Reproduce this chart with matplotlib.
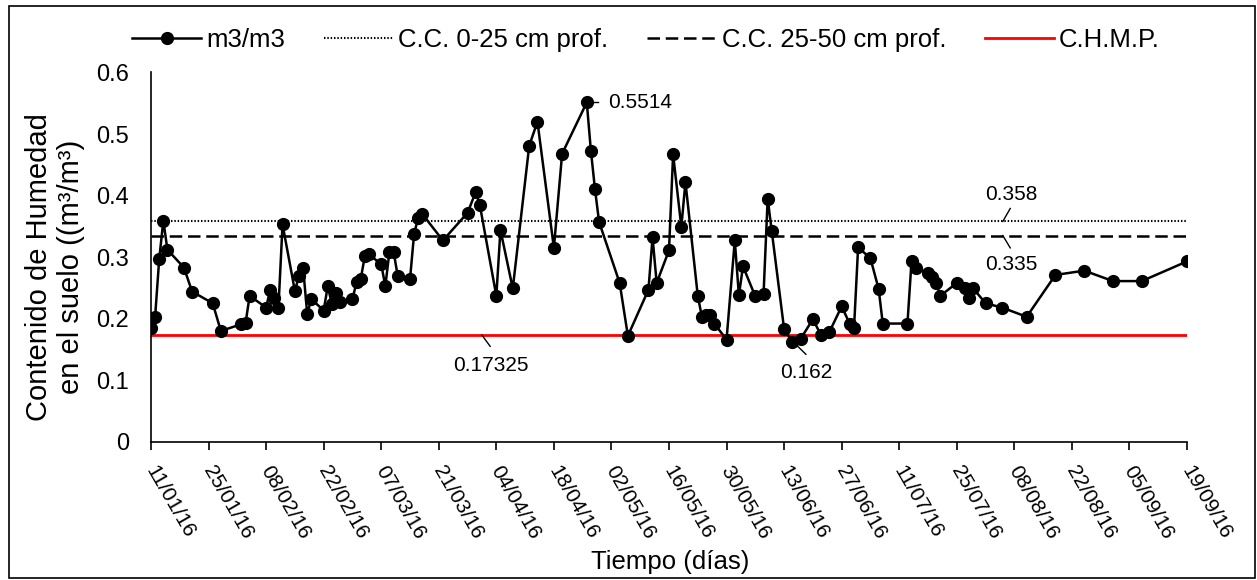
import matplotlib
matplotlib.use("Agg")
import matplotlib.pyplot as plt
from matplotlib.patches import Rectangle
from matplotlib.transforms import ScaledTranslation
import pandas as pd

plt.rcParams['font.family'] = ['Liberation Sans', 'DejaVu Sans']

# ---- data ----
inicio = "2016-01-11"
fin = "2016-09-19"
dias = [0, 1, 2, 3, 4, 8, 10, 15, 17, 22, 23, 24, 28, 29, 30, 31, 32, 35, 36, 37,
        38, 39, 42, 43, 44, 45, 46, 49, 50, 51, 52, 53, 56, 57, 58, 59, 60, 63, 64, 65,
        66, 71, 77, 79, 80, 84, 85, 88, 92, 94, 98, 100, 106, 107, 108, 109, 114, 116,
        121, 122, 123, 126, 127, 129, 130, 133, 134, 135, 136, 137, 140, 142, 143, 144,
        147, 149, 150, 151, 154, 156, 158, 161, 163, 165, 168, 170, 171, 172, 175, 177,
        178, 184, 185, 186, 189, 190, 191, 192, 196, 198, 199, 200, 203, 207, 213, 220,
        227, 234, 241, 252]
humedad = [0.184, 0.203, 0.297, 0.359, 0.312, 0.283, 0.244, 0.225, 0.180, 0.191, 0.193,
           0.237, 0.218, 0.247, 0.233, 0.218, 0.353, 0.245, 0.270, 0.283, 0.207, 0.232,
           0.213, 0.253, 0.223, 0.241, 0.227, 0.232, 0.259, 0.264, 0.301, 0.305, 0.288,
           0.253, 0.309, 0.309, 0.270, 0.264, 0.338, 0.364, 0.370, 0.327, 0.372, 0.406,
           0.384, 0.237, 0.344, 0.249, 0.481, 0.520, 0.315, 0.468, 0.5514, 0.473, 0.410,
           0.357, 0.258, 0.172, 0.247, 0.332, 0.258, 0.311, 0.467, 0.349, 0.422, 0.237,
           0.203, 0.206, 0.206, 0.192, 0.166, 0.327, 0.238, 0.285, 0.236, 0.240, 0.395,
           0.342, 0.183, 0.162, 0.167, 0.199, 0.173, 0.178, 0.220, 0.191, 0.184, 0.316,
           0.298, 0.248, 0.192, 0.192, 0.294, 0.282, 0.274, 0.267, 0.258, 0.237, 0.258,
           0.249, 0.234, 0.249, 0.225, 0.218, 0.203, 0.271, 0.278, 0.261, 0.261, 0.293]
cc_0_25 = 0.358
cc_25_50 = 0.335
chmp = 0.17325
ytick_vals = [0, 0.1, 0.2, 0.3, 0.4, 0.5, 0.6]
ytick_labels = ["0", "0.1", "0.2", "0.3", "0.4", "0.5", "0.6"]

t0 = pd.Timestamp(inicio)
t1 = pd.Timestamp(fin)
fechas = t0 + pd.to_timedelta(dias, unit="D")

W, H = 1257, 580
fig = plt.figure(figsize=(W/100, H/100), dpi=100)
ax = fig.add_axes([151/W, 1-441.7/H, (1187-151)/W, (441.7-72.5)/H])

ax.plot([t0, t1], [cc_0_25]*2, color='black', lw=1.5, ls=(0, (0.7, 0.9)),
        label='C.C. 0-25 cm prof.', zorder=2)
ax.plot([t0, t1], [cc_25_50]*2, color='black', lw=1.8, ls=(0, (5, 2.3)),
        label='C.C. 25-50 cm prof.', zorder=2)
ax.plot([t0, t1], [chmp]*2, color='#ff0000', lw=2.0, label='C.H.M.P.', zorder=2)
ax.plot(fechas, humedad, color='black', lw=1.8, marker='o', ms=8.5,
        label='m3/m3', zorder=3)

ax.set_xlim(t0, t1)
ax.set_ylim(0, 0.6)
ax.set_yticks(ytick_vals)
ax.set_yticklabels(ytick_labels)
xt = pd.date_range(t0, t1, freq='14D')
ax.set_xticks(xt)
ax.set_xticklabels([d.strftime('%d/%m/%y') for d in xt], rotation=-60,
                   ha='left', va='top', rotation_mode='anchor')
ax.tick_params(axis='x', direction='out', length=6, width=1.2, labelsize=15, pad=9)
ax.tick_params(axis='y', length=0, labelsize=17, pad=16)
shift = ScaledTranslation(7/100, 0, fig.dpi_scale_trans)
for lab in ax.get_xticklabels():
    lab.set_transform(lab.get_transform() + shift)
for s in ['top', 'right']:
    ax.spines[s].set_visible(False)
for s in ['left', 'bottom']:
    ax.spines[s].set_linewidth(1.2)

fig.text(55/W, 1-267/H, 'Contenido de Humedad\nen el suelo ((m³/m³)', fontsize=21,
         rotation=90, ha='center', va='center', linespacing=1.15)
fig.text(670/W, 1-562/H, 'Tiempo (días)', fontsize=18.5, ha='center', va='center')

def day(d):
    return t0 + pd.Timedelta(days=d)

# annotations
ax.plot([day(106.8), day(108.8)], [0.5514, 0.5514], color='black', lw=1)
ax.text(day(111.3), 0.5514, '0.5514', fontsize=15, ha='left', va='center')
ax.plot([day(80.5), day(82.5)], [chmp, 0.155], color='black', lw=1)
ax.text(day(82.6), 0.124, '0.17325', fontsize=15, ha='center', va='center')
ax.plot([day(156.4), day(159.3)], [0.161, 0.142], color='black', lw=1)
ax.text(day(159.3), 0.113, '0.162', fontsize=15, ha='center', va='center')
ax.plot([day(207.2), day(209.0)], [cc_0_25, 0.379], color='black', lw=1)
ax.text(day(209.2), 0.402, '0.358', fontsize=15, ha='center', va='center')
ax.plot([day(207.2), day(209.0)], [cc_25_50, 0.315], color='black', lw=1)
ax.text(day(209.2), 0.288, '0.335', fontsize=15, ha='center', va='center')

h, l = ax.get_legend_handles_labels()
order = [3, 0, 1, 2]
fig.legend([h[i] for i in order], [l[i] for i in order], loc='center',
           bbox_to_anchor=(646/W, 1-40/H), ncol=4, frameon=False, fontsize=18.5,
           handlelength=2.7, handletextpad=0.2, columnspacing=1.5,
           borderpad=0, borderaxespad=0)

fig.add_artist(Rectangle((9/W, 2/H), 1-11/W, 1-8/H, transform=fig.transFigure,
                         fill=False, edgecolor='black', lw=1.2))

fig.savefig('out.png', dpi=100)
